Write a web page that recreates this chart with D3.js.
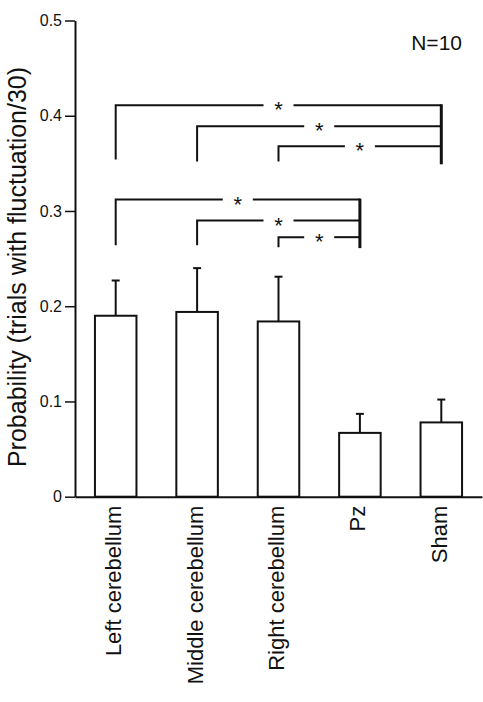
<!DOCTYPE html>
<html>
<head>
<meta charset="utf-8">
<script src="https://cdn.jsdelivr.net/npm/d3@7"></script>
<style>
  body { margin: 0; background: #fff; }
  text { font-family: "Liberation Sans", Arial, sans-serif; fill: #111; }
</style>
</head>
<body>
<div id="container"></div>
<script>
var categories = ["Left cerebellum", "Middle cerebellum", "Right cerebellum", "Pz", "Sham"];
var means = [0.190, 0.194, 0.184, 0.067, 0.078];
var sems = [0.037, 0.046, 0.047, 0.020, 0.024];
var yTicks = [0, 0.1, 0.2, 0.3, 0.4, 0.5];

// significance brackets (index into categories)
var sigFrom = [0, 1, 2, 0, 1, 2];
var sigTo = [4, 4, 4, 3, 3, 3];
var sigY = [0.411, 0.389, 0.368, 0.312, 0.290, 0.2725];
var sigLegEnd = [0.354, 0.352, 0.352, 0.264, 0.264, 0.262];
var sigTarget = [4, 3];
var sigTargetTop = [0.411, 0.312];
var sigTargetBottom = [0.349, 0.261];

var createChart = function () {
    var svg = d3.select("#container")
        .append("svg")
        .attr("width", 483)
        .attr("height", 702);

    var x = d3.scaleBand()
        .domain(categories)
        .range([75, 482])
        .paddingInner(0.49)
        .paddingOuter(0.245);

    var y = d3.scaleLinear()
        .domain([0, 0.5])
        .range([496.7, 20.5]);

    var cx = function (i) { return x(categories[i]) + x.bandwidth() / 2; };

    // y axis
    var yAxis = svg.append("g")
        .attr("transform", "translate(75,0)")
        .call(d3.axisLeft(y)
            .tickValues(yTicks)
            .tickFormat(function (d) { return d === 0 ? "0" : d3.format(".1f")(d); })
            .tickSize(10)
            .tickSizeOuter(0)
            .tickPadding(3));
    yAxis.select(".domain").attr("stroke", "#111").attr("stroke-width", 2);
    yAxis.selectAll(".tick line").attr("stroke", "#111").attr("stroke-width", 1.5);
    yAxis.selectAll(".tick text")
        .style("font-size", "16px")
        .style("font-family", "Liberation Sans, Arial, sans-serif")
        .attr("fill", "#111");

    // bars
    svg.selectAll(".bar")
        .data(means)
        .enter()
        .append("rect")
        .attr("class", "bar")
        .attr("x", function (d, i) { return x(categories[i]); })
        .attr("y", function (d) { return y(d); })
        .attr("width", x.bandwidth())
        .attr("height", function (d) { return y(0) - y(d); })
        .style("fill", "#fff")
        .attr("stroke", "#111")
        .attr("stroke-width", 2);

    // error bars
    svg.selectAll(".err")
        .data(means)
        .enter()
        .append("line")
        .attr("x1", function (d, i) { return cx(i); })
        .attr("x2", function (d, i) { return cx(i); })
        .attr("y1", function (d) { return y(d); })
        .attr("y2", function (d, i) { return y(d + sems[i]); })
        .attr("stroke", "#111")
        .attr("stroke-width", 2);

    svg.selectAll(".cap")
        .data(means)
        .enter()
        .append("line")
        .attr("x1", function (d, i) { return cx(i) - 4; })
        .attr("x2", function (d, i) { return cx(i) + 4; })
        .attr("y1", function (d, i) { return y(d + sems[i]); })
        .attr("y2", function (d, i) { return y(d + sems[i]); })
        .attr("stroke", "#111")
        .attr("stroke-width", 2);

    // x axis
    var xAxis = svg.append("g")
        .attr("transform", "translate(0," + y(0) + ")")
        .call(d3.axisBottom(x).tickSize(0).tickSizeOuter(0));
    xAxis.select(".domain").attr("stroke", "#111").attr("stroke-width", 2);
    xAxis.selectAll(".tick text")
        .attr("transform", "rotate(-90)")
        .attr("x", -9)
        .attr("y", 0)
        .attr("dy", "0.25em")
        .style("text-anchor", "end")
        .style("font-size", "22px")
        .style("font-family", "Liberation Sans, Arial, sans-serif")
        .attr("fill", "#111");

    // significance brackets
    var gap = 15;
    sigFrom.forEach(function (f, k) {
        var xl = cx(f), xr = cx(sigTo[k]), yy = y(sigY[k]);
        var mid = (xl + xr) / 2;
        svg.append("path")
            .attr("d", "M" + xl + "," + y(sigLegEnd[k]) + "V" + yy + "H" + (mid - gap))
            .style("fill", "none")
            .attr("stroke", "#111")
            .attr("stroke-width", 2);
        svg.append("line")
            .attr("x1", mid + gap)
            .attr("x2", xr)
            .attr("y1", yy)
            .attr("y2", yy)
            .attr("stroke", "#111")
            .attr("stroke-width", 2);
        svg.append("text")
            .attr("x", mid)
            .attr("y", yy + 12)
            .style("text-anchor", "middle")
            .style("font-size", "22px")
            .text("*");
    });

    sigTarget.forEach(function (t, k) {
        svg.append("line")
            .attr("x1", cx(t))
            .attr("x2", cx(t))
            .attr("y1", y(sigTargetTop[k]) - 1)
            .attr("y2", y(sigTargetBottom[k]))
            .attr("stroke", "#111")
            .attr("stroke-width", 3);
    });

    // y label
    svg.append("text")
        .attr("transform", "translate(26," + 267 + ") rotate(-90)")
        .style("text-anchor", "middle")
        .style("font-size", "25px")
        .text("Probability (trials with fluctuation/30)");

    svg.append("text")
        .attr("x", 462)
        .attr("y", 50)
        .style("text-anchor", "end")
        .style("font-size", "21px")
        .text("N=10");
};

window.onload = createChart;
</script>
</body>
</html>
